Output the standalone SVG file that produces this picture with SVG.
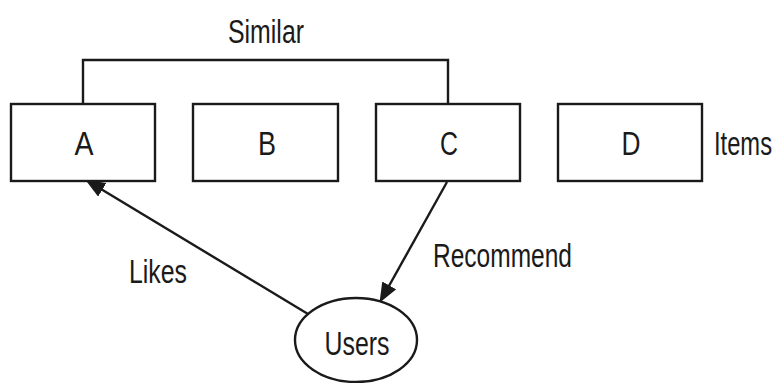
<svg xmlns="http://www.w3.org/2000/svg" width="776" height="383" viewBox="0 0 776 383">
  <style>
    .box { fill: #ffffff; stroke: #1a1a1a; stroke-width: 2.4; }
    .edge { fill: none; stroke: #1a1a1a; stroke-width: 2.4; }
    .lbl { font-family: "Liberation Sans", Arial, sans-serif; font-size: 33px; fill: #1a1a1a; }
    .mid { text-anchor: middle; }
  </style>
  <defs>
    <marker id="arrow" viewBox="0 0 20 16" refX="19" refY="8" markerWidth="20" markerHeight="16" markerUnits="userSpaceOnUse" orient="auto">
      <path d="M0,0 L20,8 L0,16 Z" fill="#1a1a1a"/>
    </marker>
  </defs>
  <rect width="776" height="383" fill="#ffffff"/>

  <g id="connectors">
    <polyline class="edge" points="83,104 83,60 448,60 448,104"/>
    <line class="edge" x1="308" y1="314" x2="86" y2="180" marker-end="url(#arrow)"/>
    <line class="edge" x1="447" y1="182" x2="380" y2="302" marker-end="url(#arrow)"/>
    <text class="lbl mid" x="266" y="43" textLength="76" lengthAdjust="spacingAndGlyphs">Similar</text>
    <text class="lbl" x="129" y="283" textLength="58" lengthAdjust="spacingAndGlyphs">Likes</text>
    <text class="lbl" x="433" y="267" textLength="139" lengthAdjust="spacingAndGlyphs">Recommend</text>
  </g>

  <g id="item-a">
    <rect class="box" x="11" y="104" width="144" height="77"/>
    <text class="lbl mid" x="84" y="155" textLength="19" lengthAdjust="spacingAndGlyphs">A</text>
  </g>
  <g id="item-b">
    <rect class="box" x="193" y="104" width="145" height="77"/>
    <text class="lbl mid" x="267" y="155" textLength="18" lengthAdjust="spacingAndGlyphs">B</text>
  </g>
  <g id="item-c">
    <rect class="box" x="376" y="104" width="144" height="77"/>
    <text class="lbl mid" x="449" y="155" textLength="18" lengthAdjust="spacingAndGlyphs">C</text>
  </g>
  <g id="item-d">
    <rect class="box" x="558" y="104" width="144" height="77"/>
    <text class="lbl mid" x="631" y="155" textLength="19" lengthAdjust="spacingAndGlyphs">D</text>
  </g>
  <g id="items-label">
    <text class="lbl" x="714" y="155" textLength="58" lengthAdjust="spacingAndGlyphs">Items</text>
  </g>
  <g id="users">
    <ellipse class="box" cx="356" cy="340" rx="61" ry="42"/>
    <text class="lbl mid" x="357" y="355" textLength="65" lengthAdjust="spacingAndGlyphs">Users</text>
  </g>
</svg>
